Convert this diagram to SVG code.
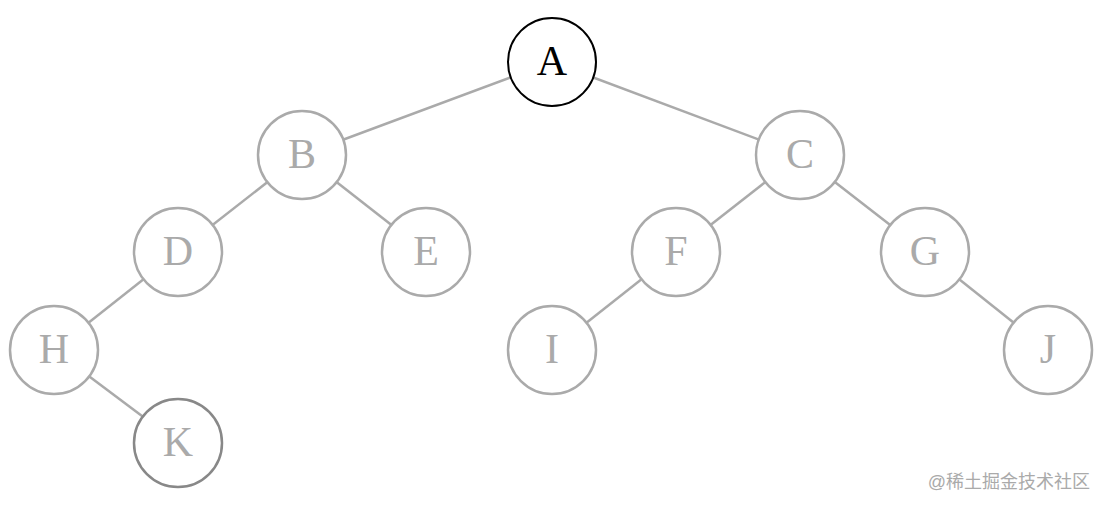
<svg xmlns="http://www.w3.org/2000/svg" width="1106" height="507" viewBox="0 0 1106 507">
<style>
.n circle{fill:#fff;stroke:#aaa;stroke-width:2.5}
.n text{font-family:"Liberation Serif",serif;font-size:42px;fill:#aaa;text-anchor:middle;dominant-baseline:central}
#A circle{stroke:#000;stroke-width:2}
#A text{fill:#000}
#K circle{stroke:#888}
.e line{stroke:#aaa;stroke-width:2.5}
.wm{font-family:"Liberation Sans","Noto Sans CJK SC",sans-serif;font-size:18px;fill:#aaa}
</style>
<rect width="1106" height="507" fill="#fff"/>
<g class="e" id="edges">
<line x1="552" y1="62" x2="302" y2="155"/>
<line x1="552" y1="62" x2="800" y2="155"/>
<line x1="302" y1="155" x2="178" y2="252"/>
<line x1="302" y1="155" x2="426" y2="252"/>
<line x1="800" y1="155" x2="676" y2="252"/>
<line x1="800" y1="155" x2="925" y2="252"/>
<line x1="178" y1="252" x2="54" y2="350"/>
<line x1="676" y1="252" x2="552" y2="350"/>
<line x1="925" y1="252" x2="1048" y2="350"/>
<line x1="54" y1="350" x2="178" y2="443"/>
</g>
<g class="n" id="A"><circle cx="552" cy="62" r="44"/><text x="552" y="61">A</text></g>
<g class="n" id="B"><circle cx="302" cy="155" r="44"/><text x="302" y="154">B</text></g>
<g class="n" id="C"><circle cx="800" cy="155" r="44"/><text x="800" y="154">C</text></g>
<g class="n" id="D"><circle cx="178" cy="252" r="44"/><text x="178" y="251">D</text></g>
<g class="n" id="E"><circle cx="426" cy="252" r="44"/><text x="426" y="251">E</text></g>
<g class="n" id="F"><circle cx="676" cy="252" r="44"/><text x="676" y="251">F</text></g>
<g class="n" id="G"><circle cx="925" cy="252" r="44"/><text x="925" y="251">G</text></g>
<g class="n" id="H"><circle cx="54" cy="350" r="44"/><text x="54" y="349">H</text></g>
<g class="n" id="I"><circle cx="552" cy="350" r="44"/><text x="552" y="349">I</text></g>
<g class="n" id="J"><circle cx="1048" cy="350" r="44"/><text x="1048" y="349">J</text></g>
<g class="n" id="K"><circle cx="178" cy="443" r="44"/><text x="178" y="442">K</text></g>
<text class="wm" x="1090" y="488" text-anchor="end">@稀土掘金技术社区</text>
</svg>
